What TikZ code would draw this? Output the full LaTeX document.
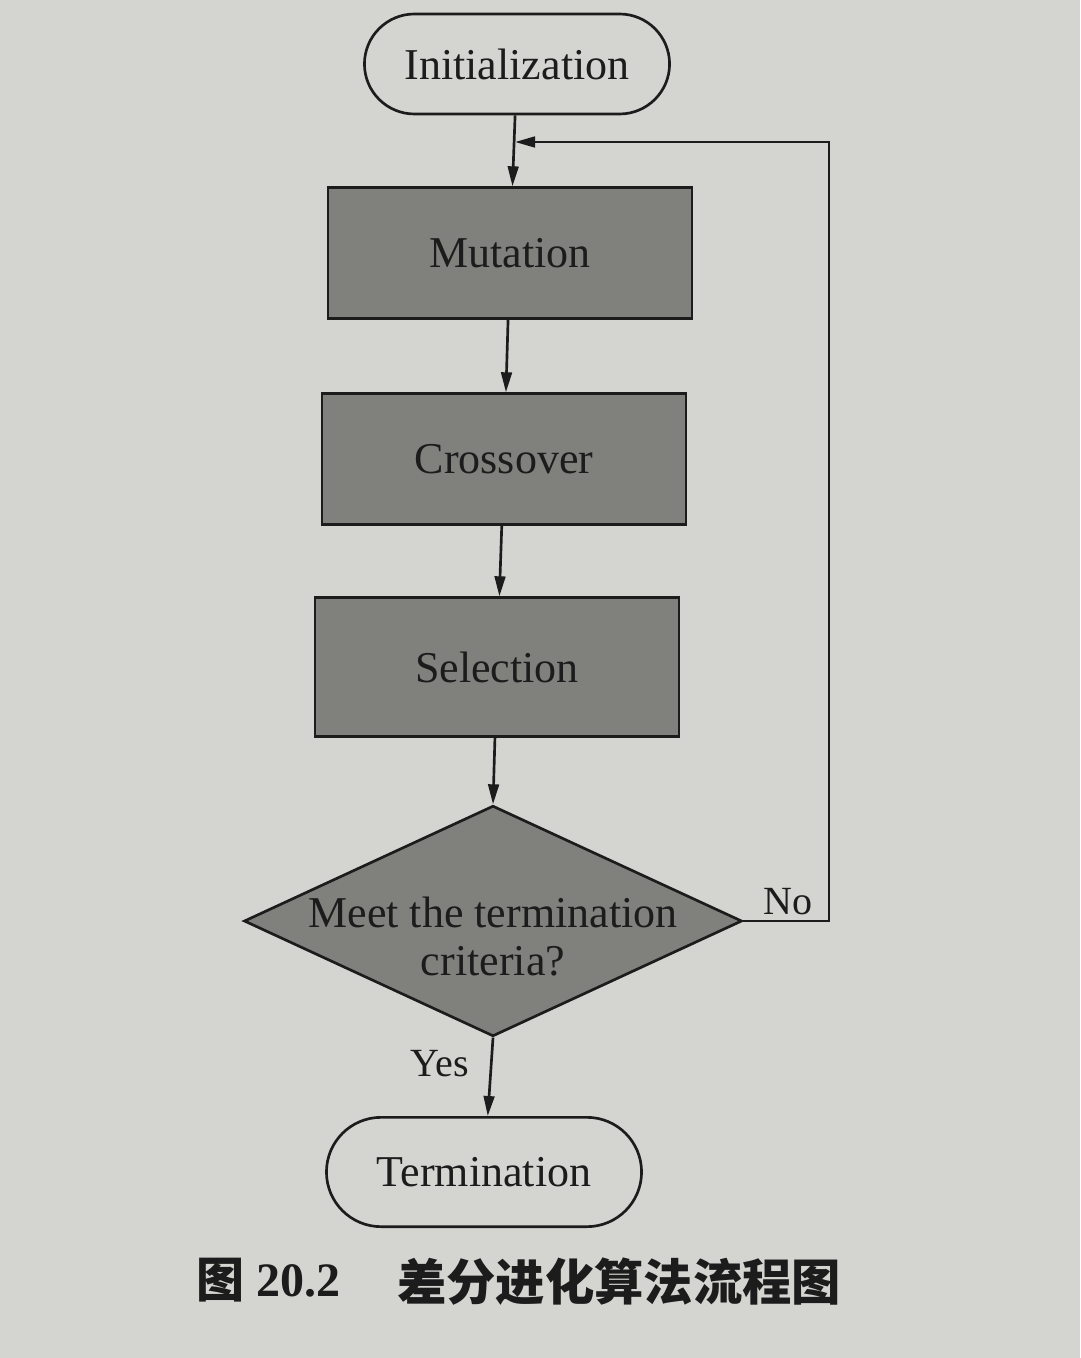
\documentclass[tikz,border=0pt]{standalone}
\usepackage{fontspec}
\setmainfont{Liberation Serif}
\newfontfamily\cjk{Noto Sans CJK SC}
\usetikzlibrary{arrows.meta,shapes.misc,shapes.geometric}

\definecolor{paper}{RGB}{212,212,209}
\definecolor{boxgray}{RGB}{128,128,125}
\definecolor{ink}{RGB}{28,28,28}

\tikzset{every picture/.style={line width=2pt}}
\tikzset{
  terminal/.style={draw=ink, rounded rectangle, minimum width=235.5pt, minimum height=75pt, font=\fontsize{33}{38}\selectfont, text=ink},
  process/.style={draw=ink, fill=boxgray, minimum width=273pt, minimum height=98pt, font=\fontsize{33}{38}\selectfont, text=ink},
  decision/.style={draw=ink, fill=boxgray, diamond, inner sep=0pt, minimum width=373.5pt, minimum height=173pt},
  flow/.style={draw=ink, -{Triangle[length=15pt,width=8pt]}},
  answer/.style={font=\fontsize{30}{34}\selectfont, text=ink}
}

\begin{document}
\begin{tikzpicture}[x=0.75pt,y=0.75pt,yscale=-1,xscale=1]
%page background
\fill [paper] (0,0) rectangle (1080,1358);

%Terminal [id:init] 
\node [terminal] (init) at (517,64) {Initialization};
%Process [id:mutation] 
\node [process] (mutation) at (510,253) {Mutation};
%Process [id:crossover] 
\node [process] (crossover) at (504,459) {Crossover};
%Process [id:selection] 
\node [process, minimum height=104pt] (selection) at (497,667) {Selection};
%Decision [id:check] 
\node [decision, label={[font=\fontsize{33}{36}\selectfont, text=ink, align=center, yshift=-12pt]center:Meet the termination\\criteria?}] (check) at (493,921) {};
%Terminal [id:term] 
\node [terminal, minimum width=243pt, minimum height=82pt] (term) at (484,1172) {Termination};

%Straight Lines 
\coordinate (merge) at (515,142);
\coordinate (loop) at (829,142);
\draw [flow] (init) -- (mutation);
\draw [flow] (mutation) -- (crossover);
\draw [flow] (crossover) -- (selection);
\draw [flow] (selection) -- (check.north);
\draw [flow] (check.south) -- (term);
\draw [flow] (check.east) -| (loop) -- (merge);

% Text Node
\node [answer] (no) at (788,902) {No};
% Text Node
\node [answer] (yes) at (440,1064) {Yes};

% Caption
\node [font=\cjk\bfseries\fontsize{36}{40}\selectfont, text=ink] (fig) at (220,1280) {图};
\node [font=\bfseries\fontsize{36}{40}\selectfont, text=ink] (fignum) at (298,1281) {20.2};
\node [font=\cjk\bfseries\fontsize{37}{40}\selectfont, text=ink] (title) at (619,1282) {差分进化算法流程图};

\end{tikzpicture}
\end{document}
